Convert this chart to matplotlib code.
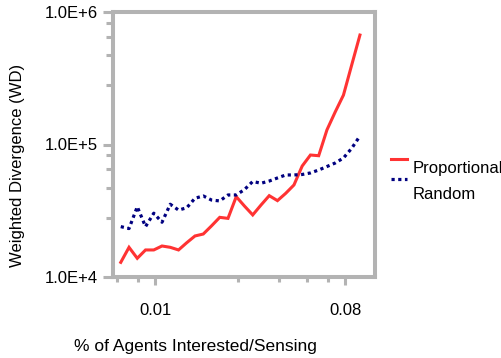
import matplotlib
matplotlib.use('Agg')
import matplotlib.pyplot as plt
from matplotlib.ticker import NullFormatter
from matplotlib.legend_handler import HandlerLine2D

plt.rcParams['font.family'] = ['Liberation Sans', 'DejaVu Sans']

# fraction of agents interested/sensing
frac = [0.00687, 0.00752, 0.00823, 0.00901, 0.00986, 0.01079, 0.01181, 0.01293,
        0.01415, 0.01548, 0.01695, 0.01855, 0.0203, 0.02222, 0.02432, 0.02662,
        0.02913, 0.03188, 0.0349, 0.03819, 0.0418, 0.04575, 0.05007, 0.0548,
        0.05998, 0.06566, 0.07186, 0.07865, 0.08608, 0.09422]

proportional = [1.29e4, 1.675e4, 1.384e4, 1.60e4, 1.60e4, 1.714e4, 1.675e4, 1.60e4,
                1.815e4, 2.04e4, 2.11e4, 2.43e4, 2.82e4, 2.77e4, 4.04e4, 3.43e4,
                2.94e4, 3.49e4, 4.11e4, 3.77e4, 4.28e4, 4.95e4, 6.88e4, 8.33e4,
                8.23e4, 1.29e5, 1.76e5, 2.36e5, 3.98e5, 6.70e5]

random_ = [2.40e4, 2.32e4, 3.39e4, 2.40e4, 3.03e4, 2.59e4, 3.54e4, 3.20e4,
           3.33e4, 3.93e4, 4.09e4, 3.81e4, 3.75e4, 4.16e4, 4.16e4, 4.57e4,
           5.26e4, 5.10e4, 5.30e4, 5.59e4, 5.89e4, 5.89e4, 5.94e4, 6.10e4,
           6.42e4, 6.82e4, 7.25e4, 7.91e4, 9.36e4, 1.16e5]

xmajor = [0.01, 0.08]
xmajor_labels = ['0.01', '0.08']
xminor = [0.0066, 0.0083, 0.0248, 0.0389, 0.0528, 0.0664]
ymajor = [1e4, 1e5, 1e6]
ymajor_labels = ['1.0E+4', '1.0E+5', '1.0E+6']
yminor = [2.8e4, 4.7e4, 6.5e4, 8.3e4, 2.8e5, 4.7e5, 6.5e5, 8.3e5]

gray = '#b3b3b3'


class RaisedLine(HandlerLine2D):
    # legend swatch sits near the top of the label, not at its middle
    def __init__(self, raise_by, **kw):
        super().__init__(**kw)
        self.raise_by = raise_by

    def create_artists(self, legend, orig_handle, xdescent, ydescent,
                       width, height, fontsize, trans):
        return super().create_artists(legend, orig_handle, xdescent,
                                      ydescent - self.raise_by * fontsize,
                                      width, height, fontsize, trans)


fig = plt.figure(figsize=(5.02, 3.58), dpi=100)
ax = fig.add_axes([113/502, 81/358, 262/502, 265/358])

l1, = ax.plot(frac, proportional, color='#ff3333', lw=2.2, label='Proportional',
              solid_joinstyle='miter')
l2, = ax.plot(frac, random_, color='#000080', lw=2.3, linestyle=(0, (1, 1.1)),
              dash_capstyle='butt', label='Random')

ax.set_xscale('log')
ax.set_yscale('log')
ax.set_xlim(0.00631, 0.1111)
ax.set_ylim(1e4, 1e6)

ax.set_xticks(xmajor, xmajor_labels)
ax.set_xticks(xminor, minor=True)
ax.set_yticks(ymajor, ymajor_labels)
ax.set_yticks(yminor, minor=True)
ax.xaxis.set_minor_formatter(NullFormatter())
ax.yaxis.set_minor_formatter(NullFormatter())

for s in ax.spines.values():
    s.set_color(gray)
    s.set_linewidth(2.9)

ax.tick_params(axis='both', which='both', color=gray, width=2.2, labelsize=12,
               direction='out')
ax.tick_params(axis='y', which='major', length=7.2, pad=4)
ax.tick_params(axis='y', which='minor', length=5)
ax.tick_params(axis='x', which='major', length=6, pad=13)
ax.tick_params(axis='x', which='minor', length=3.6)

ax.set_xlabel('% of Agents Interested/Sensing', fontsize=12.5)
ax.xaxis.set_label_coords(0.313, -0.235)
ax.set_ylabel('Weighted Divergence (WD)', fontsize=12)
ax.yaxis.set_label_coords(-0.335, 0.422)

ax.legend(loc='upper left', bbox_to_anchor=(1.06, 0.437), frameon=False,
          fontsize=12, handlelength=1.0, handletextpad=0.3, borderpad=0,
          borderaxespad=0, labelspacing=0.62,
          handler_map={l1: RaisedLine(0.95), l2: RaisedLine(1.65)})

fig.savefig('out.png', dpi=100)
